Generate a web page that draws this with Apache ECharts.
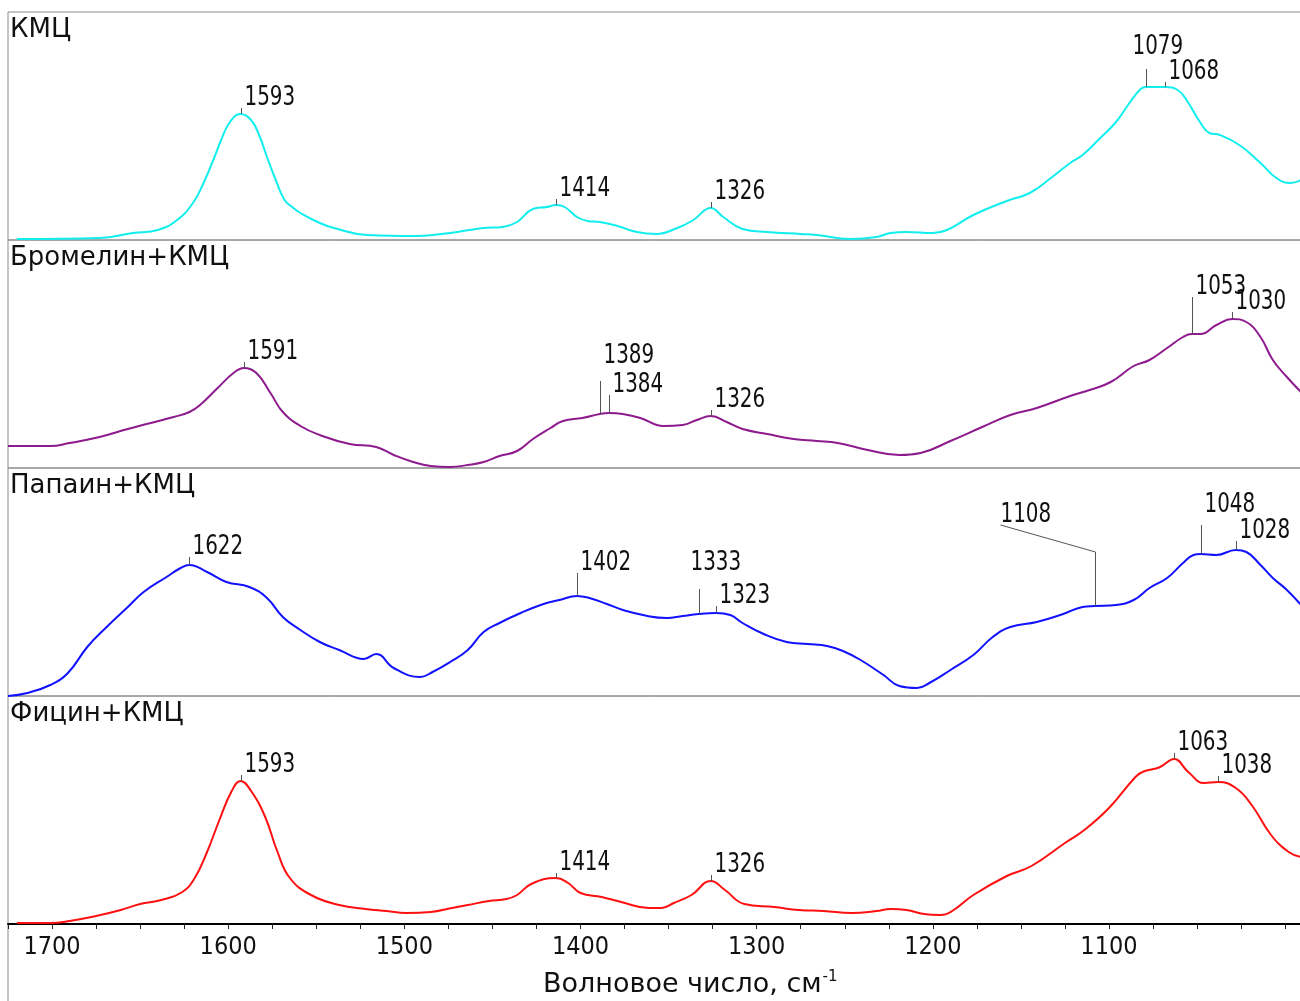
<!DOCTYPE html>
<html><head><meta charset="utf-8">
<script src="https://cdn.jsdelivr.net/npm/echarts@6/dist/echarts.min.js"></script>
<style>html,body{margin:0;padding:0;background:#fff}#c{width:1300px;height:1001px}</style>
</head><body><div id="c"></div>
<script>
// ---------- DATA (wavenumber, cm-1 ; relative intensity) ----------
const panelNames = ['КМЦ', 'Бромелин+КМЦ', 'Папаин+КМЦ', 'Фицин+КМЦ'];
const axisTitle = 'Волновое число, см';

const kmcWn = [1720,1673,1654,1640,1629,1620,1614,1608,1604,1599,1593,1587,1582,1578,1573,1568,1563,1559,1548,1540,1521,1493,1474,1463,1455,1444,1436,1427,1419,1414,1409,1402,1396,1389,1379,1368,1357,1345,1336,1326,1319,1308,1294,1275,1266,1247,1232,1224,1215,1200,1192,1177,1158,1145,1133,1122,1115,1105,1096,1088,1082,1079,1068,1061,1056,1048,1043,1037,1026,1014,1005,997,991];
const kmcI  = [1,2,7,10,20,37,57,82,100,118,126,120,103,83,60,40,32,27,17,12,5,4,7,10,12,13,18,31,33,35,33,23,19,18,14,8,6,12,20,32,23,11,8,6,5,1,3,7,8,7,10,25,39,47,62,77,85,102,118,138,151,153,153,150,140,117,107,105,95,77,62,57,60];

const bromWn = [1725,1701,1690,1673,1657,1644,1631,1622,1616,1606,1597,1591,1584,1576,1569,1559,1548,1531,1516,1506,1495,1485,1474,1464,1455,1446,1436,1427,1417,1410,1399,1389,1384,1376,1366,1353,1342,1334,1326,1317,1308,1294,1279,1266,1254,1237,1219,1207,1190,1172,1156,1141,1122,1111,1099,1086,1077,1067,1058,1053,1048,1039,1030,1022,1014,1007,999,991];
const bromI  = [22,22,25,31,39,45,51,56,63,80,95,100,95,75,56,42,33,24,21,13,6,2,1,3,6,12,17,29,40,47,50,54,55,54,50,42,43,48,52,46,39,34,29,27,25,18,13,15,27,41,53,60,72,78,86,102,108,120,131,134,134,143,149,146,131,108,91,76];

const papWn = [1725,1714,1701,1691,1680,1669,1657,1648,1635,1627,1622,1612,1601,1588,1578,1569,1559,1548,1537,1523,1516,1506,1491,1484,1474,1464,1455,1446,1434,1421,1412,1402,1395,1385,1376,1362,1351,1342,1333,1323,1315,1308,1296,1283,1271,1260,1251,1241,1228,1219,1209,1202,1190,1177,1166,1156,1141,1126,1115,1108,1096,1086,1077,1067,1058,1052,1048,1039,1028,1022,1014,1007,999,991];
const papI  = [0,3,11,23,49,69,89,104,119,128,131,124,114,109,98,79,66,54,46,37,42,28,19,24,34,46,64,73,83,92,96,100,98,92,86,80,78,80,82,83,81,73,62,54,52,50,45,36,21,10,8,13,26,41,59,69,74,82,89,90,91,96,108,118,133,141,142,141,146,144,131,118,106,91];

const ficWn = [1720,1701,1690,1675,1661,1650,1638,1626,1619,1612,1605,1598,1593,1587,1579,1572,1565,1553,1537,1522,1510,1499,1485,1473,1464,1452,1442,1436,1428,1414,1407,1400,1388,1377,1361,1354,1347,1337,1326,1318,1307,1290,1276,1262,1246,1232,1224,1215,1205,1196,1189,1177,1158,1144,1125,1114,1100,1085,1081,1071,1063,1055,1046,1038,1028,1019,1008,998,991];
const ficI  = [1,1,3,8,14,20,24,32,46,72,104,133,143,133,107,72,46,29,19,15,13,11,12,16,19,23,25,29,40,46,41,31,27,22,16,16,21,29,43,34,20,17,14,13,11,13,15,14,10,9,13,29,48,58,81,94,116,147,152,157,165,152,141,142,136,119,89,72,67];

const kmcPeaks  = [1593,1414,1326,1079,1068];
const bromPeaks = [1591,1389,1384,1326,1053,1030];
const papPeaks  = [1622,1402,1333,1323,1108,1048,1028];
const ficPeaks  = [1593,1414,1326,1063,1038];

// ---------- LAYOUT / STYLE ----------
const W = 1300, H = 1001;
const PL = 8, PR = 1301, PTOP = 12, PH = 228;
const X_MIN = 991, X_MAX = 1725;
const T_MIN = 900, T_MAX = 1800;
const sc = (PR - PL) / (X_MAX - X_MIN);
const tickLeft = PL - (T_MAX - X_MAX) * sc;
const tickRight = W - (PR + (X_MIN - T_MIN) * sc);
const AXIS_Y = PTOP + 4 * PH;

const numFont = "'DejaVu Sans Condensed', 'Liberation Sans', sans-serif";
const txtFont = "'DejaVu Sans', Verdana, sans-serif";
const colors = ['#12eeee', '#8e1b8e', '#1212ff', '#ff1010'];

// label placement tweaks (tick length, text offset) per panel
const peakLayouts = [
  {1079: {L: 18, dx: -14, gap: 12}, 1068: {L: 5}},
  {1389: {L: 33, gap: 15}, 1384: {L: 18}, 1053: {L: 37}, 1030: {L: 7}},
  {1622: {L: 8}, 1402: {L: 23}, 1333: {L: 25, dx: -9, gap: 16}, 1323: {L: 7},
   1108: {L: 54, dx: -95, gap: 27, lead: true}, 1048: {L: 29, gap: 10}, 1028: {L: 9}},
  {1414: {L: 5}}
];

const seriesWn = [kmcWn, bromWn, papWn, ficWn];
const seriesI = [kmcI, bromI, papI, ficI];
const seriesPeaks = [kmcPeaks, bromPeaks, papPeaks, ficPeaks];

function valueAt(wns, ys, w) {
  for (let i = 0; i < wns.length - 1; i++) {
    const a = wns[i], b = wns[i + 1];
    if ((w <= a && w >= b) || (w >= a && w <= b)) {
      const t = (w - a) / (b - a || 1);
      return ys[i] + t * (ys[i + 1] - ys[i]);
    }
  }
  return ys[ys.length - 1];
}

function makeRender(lays) {
  return function (params, api) {
    const wn = api.value(0), h = api.value(1);
    const lay = Object.assign({L: 6, dx: 3, gap: 0, lead: false}, lays[wn] || {});
    const p = api.coord([wn, h]);
    const x = Math.round(p[0]) + 0.5, y = p[1];
    const topY = y - lay.L;
    const tx = x + lay.dx, tb = topY - lay.gap;
    const pts = [[x, y], [x, topY]];
    if (lay.lead) pts.push([tx, tb]);
    return {
      type: 'group',
      children: [
        {type: 'polyline', shape: {points: pts}, style: {stroke: '#555', lineWidth: 1, fill: null}},
        {type: 'text', x: tx, y: tb - 10, scaleX: 0.82, scaleY: 1,
         style: {text: String(wn), fontSize: 27, fontFamily: numFont, fill: '#111',
                 align: 'left', verticalAlign: 'middle', textAlign: 'left', textVerticalAlign: 'middle'}}
      ]
    };
  };
}

const grids = [], xAxes = [], yAxes = [], series = [], titles = [];
for (let i = 0; i < 4; i++) {
  grids.push({left: PL, right: W - PR, top: PTOP + i * PH, height: PH, show: true,
              borderColor: '#8a8a8a', borderWidth: 1, backgroundColor: 'transparent',
              containLabel: false, outerBoundsMode: 'none'});
  xAxes.push({type: 'value', gridIndex: i, min: X_MIN, max: X_MAX, inverse: true,
              show: i === 3,
              axisLine: {show: i === 3, lineStyle: {color: '#000', width: 2}},
              axisTick: {show: false}, axisLabel: {show: false}, splitLine: {show: false}});
  yAxes.push({type: 'value', gridIndex: i, min: 0, max: PH, show: false, splitLine: {show: false}});
  series.push({type: 'line', xAxisIndex: i, yAxisIndex: i, showSymbol: false, smooth: 0.45,
               silent: true, clip: true, z: 3,
               lineStyle: {color: colors[i], width: 2},
               data: seriesWn[i].map((w, k) => [w, seriesI[i][k]])});
  series.push({type: 'custom', xAxisIndex: i, yAxisIndex: i, silent: true, z: 4,
               renderItem: makeRender(peakLayouts[i]),
               data: seriesPeaks[i].map(w => [w, valueAt(seriesWn[i], seriesI[i], w)])});
  titles.push({text: panelNames[i], left: 10, top: PTOP + i * PH + 5, padding: 0,
               textStyle: {fontFamily: txtFont, fontSize: 26, fontWeight: 'normal', color: '#111'}});
}
// tick-only axis (extended so ticks run from multiples of 100)
grids.push({left: tickLeft, right: tickRight, top: AXIS_Y - 1, height: 1, show: false,
            containLabel: false, outerBoundsMode: 'none'});
xAxes.push({type: 'value', gridIndex: 4, min: T_MIN, max: T_MAX, interval: 100, inverse: true,
            position: 'bottom',
            axisLine: {show: false},
            axisTick: {show: true, length: 5, lineStyle: {color: '#222', width: 1}},
            minorTick: {show: true, splitNumber: 4, length: 5, lineStyle: {color: '#222', width: 1}},
            axisLabel: {show: true, margin: 11, fontFamily: numFont, fontSize: 25, color: '#111',
                        formatter: v => (v >= 1100 && v <= 1700) ? String(v) : ''},
            splitLine: {show: false}});
yAxes.push({type: 'value', gridIndex: 4, show: false});

titles.push({text: '{a|' + axisTitle + '}{b|-1}', left: 543, top: 970, padding: 0,
             textStyle: {fontWeight: 'normal', rich: {
               a: {fontFamily: txtFont, fontSize: 27, fontWeight: 'normal', color: '#111'},
               b: {fontFamily: txtFont, fontSize: 15, fontWeight: 'normal', color: '#111', padding: [0, 0, 14, 1]}
             }}});

const chart = echarts.init(document.getElementById('c'), null, {renderer: 'canvas', width: W, height: H});
chart.setOption({
  animation: false,
  backgroundColor: '#fff',
  title: titles,
  grid: grids,
  xAxis: xAxes,
  yAxis: yAxes,
  series: series,
  graphic: [{type: 'line', shape: {x1: PL, y1: AXIS_Y, x2: PL, y2: H}, style: {stroke: '#8a8a8a', lineWidth: 1}}]
});
</script></body></html>
